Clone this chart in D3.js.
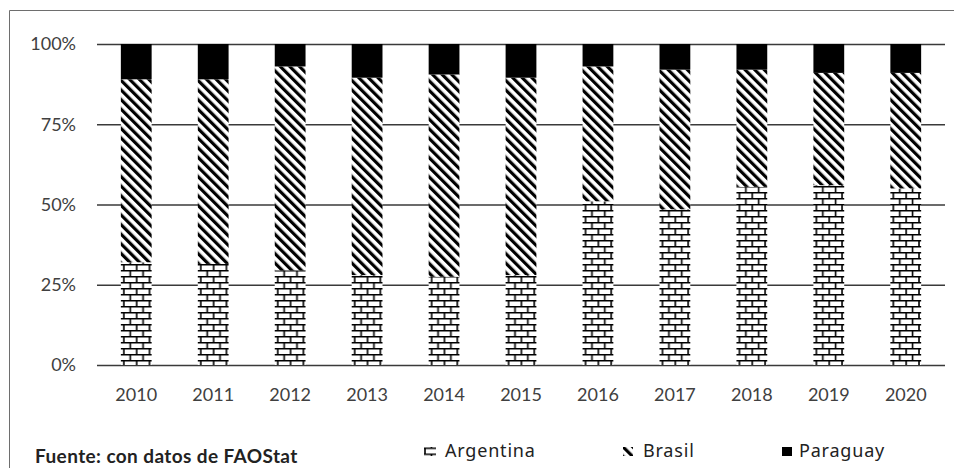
<!DOCTYPE html>
<html>
<head>
<meta charset="utf-8">
<script src="https://cdn.jsdelivr.net/npm/d3@7"></script>
<style>
  body { margin: 0; background: #fff; }
  svg { display: block; }
</style>
</head>
<body>
<script>
// Share of production by country, 2010-2020 (percent of total)
const years = ["2010", "2011", "2012", "2013", "2014", "2015", "2016", "2017", "2018", "2019", "2020"];
const argentina = [32, 31.5, 29.5, 28, 27.5, 28, 51, 48.5, 55.5, 56, 55];
const brasil = [57, 57.5, 63.5, 61.5, 63, 61.5, 42, 43.5, 36.5, 35, 36];
const paraguay = [11, 11, 7, 10.5, 9.5, 10.5, 7, 8, 8, 9, 9];
const seriesNames = ["Argentina", "Brasil", "Paraguay"];
const yTicks = [0, 25, 50, 75, 100];
const sourceNote = "Fuente: con datos de FAOStat";

const W = 954, H = 468;
const plot = { left: 97, right: 945, top: 44, bottom: 365 };

const rows = years.map((y, i) => ({
  year: y,
  Argentina: argentina[i],
  Brasil: brasil[i],
  Paraguay: paraguay[i]
}));

const svg = d3.select("body").append("svg")
  .attr("width", W).attr("height", H);

const x = d3.scaleBand().domain(years)
  .range([plot.left, plot.right])
  .paddingInner(0.6).paddingOuter(0.31);
const y = d3.scaleLinear().domain([0, 100]).range([plot.bottom, plot.top]);

// Fill patterns: brick for Argentina, diagonal stripes for Brasil
const defs = svg.append("defs");
const brickW = x.step() / 6, brickH = 12;

function brickPattern(id, x0, y0) {
  const p = defs.append("pattern")
    .attr("id", id).attr("patternUnits", "userSpaceOnUse")
    .attr("x", x0).attr("y", y0)
    .attr("width", brickW).attr("height", brickH);
  p.append("rect").attr("width", brickW).attr("height", brickH).attr("fill", "#fff");
  p.append("path")
    .attr("d", `M0,0.8H${brickW}M0,6.8H${brickW}M1,0.8V6.8M${brickW / 2 + 1},6.8V12.8`)
    .attr("stroke", "#000").attr("stroke-width", 1.6).attr("fill", "none");
}

const stripeP = 6.8;
function stripePattern(id, x0) {
  const p = defs.append("pattern")
    .attr("id", id).attr("patternUnits", "userSpaceOnUse")
    .attr("x", x0)
    .attr("width", stripeP).attr("height", stripeP)
    .attr("patternTransform", "rotate(-45)");
  p.append("rect").attr("width", stripeP).attr("height", stripeP).attr("fill", "#fff");
  p.append("rect").attr("width", 3.2).attr("height", stripeP).attr("fill", "#000");
}

brickPattern("brick", x(years[0]) + 2, 0);
stripePattern("stripes", 0);

const fills = { Argentina: "url(#brick)", Brasil: "url(#stripes)", Paraguay: "#000" };

// Outer frame
svg.append("path")
  .attr("d", `M9.5,${H + 2}V10.5H${W + 2}`)
  .attr("fill", "none").attr("stroke", "#6e6e6e").attr("stroke-width", 1);

// Horizontal gridlines with percentage labels
const yAxis = svg.append("g")
  .attr("transform", `translate(${plot.left},0)`)
  .call(d3.axisLeft(y).tickValues(yTicks)
    .tickSize(-(plot.right - plot.left)).tickPadding(21)
    .tickFormat(d => d + "%"));
yAxis.select(".domain").remove();
yAxis.selectAll(".tick line").attr("stroke", "#3a3a3a").attr("stroke-width", 1.3);
yAxis.selectAll(".tick text")
  .attr("font-family", "Lato, sans-serif").attr("font-size", 18)
  .attr("fill", "#404040");

// Stacked bars
const stack = d3.stack().keys(seriesNames)(rows);
const layers = svg.append("g").selectAll("g")
  .data(stack).join("g")
  .attr("fill", d => fills[d.key]);
layers.selectAll("rect")
  .data(d => d)
  .join("rect")
  .attr("x", d => x(d.data.year))
  .attr("width", x.bandwidth())
  .attr("y", d => y(d[1]))
  .attr("height", d => y(d[0]) - y(d[1]));

// Year labels
const xAxis = svg.append("g")
  .attr("transform", `translate(0,${plot.bottom})`)
  .call(d3.axisBottom(x).tickSize(0).tickPadding(23));
xAxis.select(".domain").remove();
xAxis.selectAll(".tick text")
  .attr("font-family", "Lato, sans-serif").attr("font-size", 18)
  .attr("fill", "#404040");

// Source note
svg.append("text")
  .attr("x", 35).attr("y", 463)
  .attr("font-family", "Lato, sans-serif").attr("font-weight", 700)
  .attr("font-size", 19).attr("letter-spacing", 0.4).attr("fill", "#222")
  .text(sourceNote);

// Legend
const legendKeyX = [424, 623, 782];
const legendTextX = [445, 643, 799];
const legendY = 447;
brickPattern("brick-key", legendKeyX[0], legendY + 0.5);
stripePattern("stripes-key", 123);
const keyFills = { Argentina: "url(#brick-key)", Brasil: "url(#stripes-key)", Paraguay: "#000" };
const keyW = [12, 10, 10];

const legend = svg.append("g").selectAll("g")
  .data(seriesNames).join("g");
legend.append("rect")
  .attr("x", (d, i) => legendKeyX[i]).attr("y", legendY)
  .attr("width", (d, i) => keyW[i]).attr("height", 9)
  .attr("fill", d => keyFills[d]);
legend.append("text")
  .attr("x", (d, i) => legendTextX[i]).attr("y", 457)
  .attr("font-family", "'Noto Sans', sans-serif").attr("font-size", 18)
  .attr("letter-spacing", 0.8).attr("fill", "#222")
  .text(d => d);
</script>
</body>
</html>
